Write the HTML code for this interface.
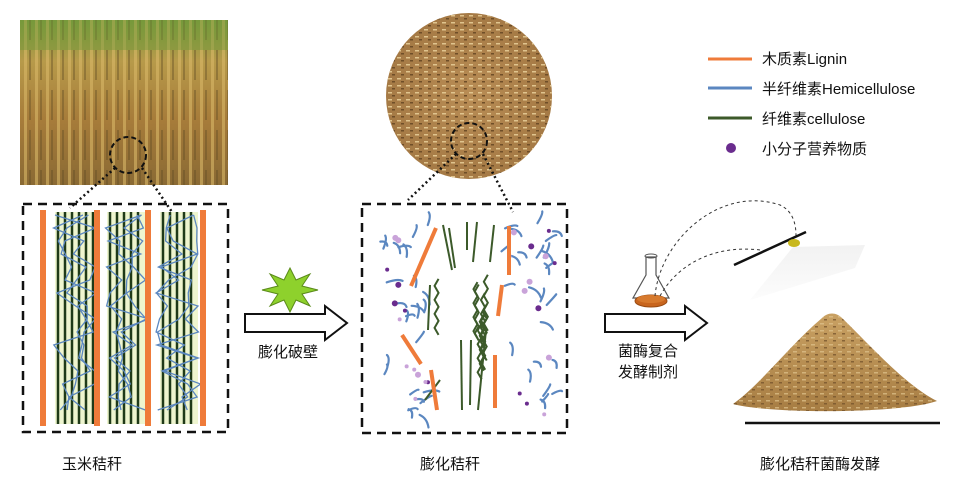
<!DOCTYPE html>
<html><head><meta charset="utf-8"><style>
html,body{margin:0;padding:0;background:#fff;}
svg{display:block;}
text{font-family:"Liberation Sans","Noto Sans CJK SC",sans-serif;fill:#111;}
</style></head><body>
<svg id="s" width="965" height="487" viewBox="0 0 965 487" xmlns="http://www.w3.org/2000/svg">
<defs>
<linearGradient id="corn" x1="0" y1="0" x2="0" y2="1">
<stop offset="0" stop-color="#7d9a3c"/><stop offset="0.25" stop-color="#b79a4a"/><stop offset="0.6" stop-color="#a77c3a"/><stop offset="1" stop-color="#8a6a34"/></linearGradient>
<pattern id="stalk" width="11" height="40" patternUnits="userSpaceOnUse">
<rect width="11" height="40" fill="none"/><rect x="2" width="3" height="40" fill="#d9b868" opacity="0.6"/><rect x="7" y="10" width="2" height="30" fill="#5e4a22" opacity="0.4"/></pattern>
<radialGradient id="bran" cx="0.5" cy="0.5" r="0.5"><stop offset="0" stop-color="#b98d55"/><stop offset="1" stop-color="#a57a45"/></radialGradient>
<pattern id="speck" width="9" height="7" patternUnits="userSpaceOnUse"><rect width="9" height="7" fill="none"/><rect x="1" y="1" width="4" height="1.5" fill="#e0c48e"/><rect x="5" y="4" width="3" height="1.5" fill="#6f4e28"/></pattern>
<linearGradient id="pile" x1="0" y1="0" x2="0" y2="1"><stop offset="0" stop-color="#c9a163"/><stop offset="1" stop-color="#a77d43"/></linearGradient>
<linearGradient id="spray" x1="0" y1="0" x2="0" y2="1"><stop offset="0" stop-color="#ececec"/><stop offset="1" stop-color="#fbfbfb"/></linearGradient>
</defs>

<rect x="20" y="20" width="208" height="165" fill="url(#corn)"/>
<rect x="20" y="20" width="208" height="165" fill="url(#stalk)"/>
<rect x="20" y="20" width="208" height="30" fill="#6f9a3a" opacity="0.45"/>
<circle cx="128" cy="155" r="18" fill="none" stroke="#111" stroke-width="2" stroke-dasharray="5,3"/>
<line x1="115" y1="168" x2="70" y2="208" stroke="#111" stroke-width="2.5" stroke-dasharray="2,3"/>
<line x1="142" y1="168" x2="172" y2="212" stroke="#111" stroke-width="2.5" stroke-dasharray="2,3"/>

<rect x="23" y="204" width="205" height="228" fill="none" stroke="#111" stroke-width="2.5" stroke-dasharray="9,6"/>
<g id="leftfib"></g>

<polygon points="290,268 296,280 310,274 302,286 318,290 302,294 310,306 296,300 290,312 284,300 270,306 278,294 262,290 278,286 270,274 284,280" fill="#8ed12c" stroke="#5a8a1a" stroke-width="1"/>
<polygon points="245,314 325,314 325,306 347,323 325,340 325,332 245,332" fill="#fff" stroke="#111" stroke-width="2"/>
<text x="258" y="357" font-size="15">膨化破壁</text>

<circle cx="469" cy="96" r="83" fill="url(#bran)"/>
<circle cx="469" cy="96" r="83" fill="url(#speck)"/>
<circle cx="469" cy="141" r="18" fill="none" stroke="#111" stroke-width="2" stroke-dasharray="5,3"/>
<line x1="456" y1="154" x2="408" y2="200" stroke="#111" stroke-width="2.5" stroke-dasharray="2,3"/>
<line x1="483" y1="154" x2="513" y2="212" stroke="#111" stroke-width="2.5" stroke-dasharray="2,3"/>

<rect x="362" y="204" width="205" height="229" fill="none" stroke="#111" stroke-width="2.5" stroke-dasharray="9,6"/>
<g id="midfib"></g>

<line x1="708" y1="59" x2="752" y2="59" stroke="#ef7b3a" stroke-width="3"/>
<line x1="708" y1="88" x2="752" y2="88" stroke="#5b87c0" stroke-width="3"/>
<line x1="708" y1="118" x2="752" y2="118" stroke="#3c5a2a" stroke-width="3"/>
<circle cx="731" cy="148" r="5" fill="#6a2c8e"/>
<text x="762" y="64" font-size="15">木质素Lignin</text>
<text x="762" y="94" font-size="15">半纤维素Hemicellulose</text>
<text x="762" y="124" font-size="15">纤维素cellulose</text>
<text x="762" y="154" font-size="15">小分子营养物质</text>

<path d="M646,257 L656,257 L656,275 L669,298 L633,298 L646,275 Z" fill="none" stroke="#555" stroke-width="1.2"/>
<ellipse cx="651" cy="256" rx="6" ry="2" fill="none" stroke="#555"/>
<ellipse cx="651" cy="301" rx="16" ry="6" fill="#c8651e" stroke="#9a4b12"/>
<ellipse cx="651" cy="299" rx="14" ry="4" fill="#d77a2e"/>
<path d="M655,296 C660,240 720,185 780,205 C795,212 796,228 796,236" fill="none" stroke="#333" stroke-width="1" stroke-dasharray="3,3"/>
<path d="M660,296 C680,260 720,245 760,250" fill="none" stroke="#333" stroke-width="1" stroke-dasharray="3,3"/>
<polygon points="793,247 865,245 855,268 750,300" fill="url(#spray)" opacity="0.7"/>
<line x1="734" y1="265" x2="806" y2="232" stroke="#111" stroke-width="2.5"/>
<ellipse cx="794" cy="243" rx="6" ry="4" fill="#c8b81e"/>
<polygon points="605,314 685,314 685,306 707,323 685,340 685,332 605,332" fill="#fff" stroke="#111" stroke-width="2"/>
<text x="618" y="356" font-size="15">菌酶复合</text>
<text x="618" y="377" font-size="15">发酵制剂</text>

<path d="M733,404 C760,385 790,345 822,318 C828,312 836,312 842,318 C870,345 905,385 937,401 C900,414 770,414 733,404 Z" fill="url(#pile)"/>
<path d="M733,404 C760,385 790,345 822,318 C828,312 836,312 842,318 C870,345 905,385 937,401 C900,414 770,414 733,404 Z" fill="url(#speck)" opacity="0.7"/>
<line x1="745" y1="423" x2="940" y2="423" stroke="#111" stroke-width="2.5"/>

<text x="62" y="469" font-size="15">玉米秸秆</text>
<text x="420" y="469" font-size="15">膨化秸秆</text>
<text x="760" y="469" font-size="15">膨化秸秆菌酶发酵</text>
</svg>
<script>
(function(){
var NS="http://www.w3.org/2000/svg";
var seed=7;function r(){seed=(seed*16807)%2147483647;return seed/2147483647;}
function el(p,n,a){var e=document.createElementNS(NS,n);for(var k in a)e.setAttribute(k,a[k]);p.appendChild(e);return e;}
var L=document.getElementById("leftfib");
[[55,95],[107,145],[160,198]].forEach(function(g){
 el(L,"rect",{x:g[0],y:212,width:g[1]-g[0],height:212,fill:"#eef5cf"});
 for(var x=g[0]+3;x<g[1];x+=7){el(L,"line",{x1:x,y1:212,x2:x,y2:424,stroke:"#1f3a18","stroke-width":2.5});}
 for(var k=0;k<3;k++){var d="M"+(g[0]+r()*(g[1]-g[0]))+",215";for(var y=228;y<422;y+=13){d+=" L"+(g[0]-4+r()*(g[1]-g[0]+8))+","+y;}
 el(L,"path",{d:d,fill:"none",stroke:"#5b87c0","stroke-width":1.3});}
});
[43,97,148,203].forEach(function(x){el(L,"rect",{x:x-3,y:210,width:6,height:216,fill:"#ef7b3a"});});
var M=document.getElementById("midfib");
function side(x0,x1){for(var i=0;i<26;i++){var x=x0+r()*(x1-x0),y=220+r()*200,a=r()*6.28,l=8+r()*8;
 el(M,"path",{d:"M"+x+","+y+" q"+(Math.cos(a)*l/2+3)+","+(Math.sin(a)*l/2-3)+" "+Math.cos(a)*l+","+Math.sin(a)*l,fill:"none",stroke:"#5b87c0","stroke-width":2.2,"stroke-linecap":"round"});}
 for(var j=0;j<13;j++){el(M,"circle",{cx:x0+r()*(x1-x0),cy:222+r()*200,r:r()<0.6?3:2,fill:r()<0.6?"#6a2c8e":"#c9a3d9"});}}
side(376,430);side(508,555);
[[443,225,452,270],[449,228,455,268],[467,222,467,250],[477,222,473,262],[494,225,490,262],[430,285,428,330],[461,340,462,410],[471,340,470,405],[440,380,425,400],[486,330,478,410]].forEach(function(q){
 el(M,"line",{x1:q[0],y1:q[1],x2:q[2],y2:q[3],stroke:"#3c5a2a","stroke-width":2});});
for(var i=0;i<9;i++){var x=436+r()*60,y=265+r()*60,d="M"+x+","+y;for(var k=0;k<8;k++){y+=7;x+=(k%2?4:-4);d+=" L"+x+","+y;}
 el(M,"path",{d:d,fill:"none",stroke:"#3c5a2a","stroke-width":2});}
[[436,228,411,286],[402,335,421,364],[431,370,437,410],[509,226,509,275],[502,285,498,316],[495,355,495,408]].forEach(function(q){
 el(M,"line",{x1:q[0],y1:q[1],x2:q[2],y2:q[3],stroke:"#ef7b3a","stroke-width":4});});
})();
</script>
</body></html>
